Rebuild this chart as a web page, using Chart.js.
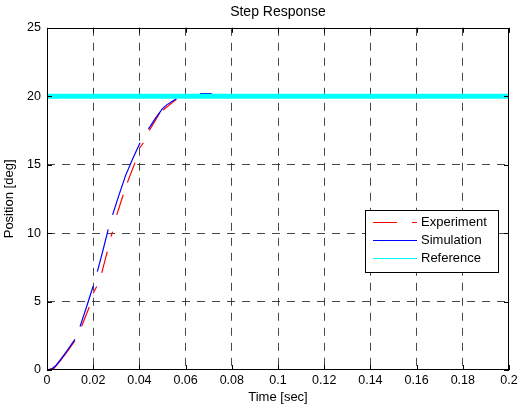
<!DOCTYPE html>
<html>
<head>
<meta charset="utf-8">
<script src="https://cdn.jsdelivr.net/npm/chart.js@4"></script>
<style>
  html, body { margin: 0; padding: 0; background: #fff; }
  #wrap { width: 518px; height: 407px; }
</style>
</head>
<body>
<div id="wrap"><canvas id="stepChart" width="518" height="407"></canvas></div>
<script>
// Step response of the position loop (null = break in the trace)

const simTime = [0, 0.002, 0.004, 0.006, 0.008, 0.010, 0.0121, 0.013,
                 0.0143, 0.017, 0.020, 0.021,
                 0.0218, 0.024, 0.0265, 0.0275,
                 0.0284, 0.031, 0.034, 0.037, 0.0403, 0.042,
                 0.0439, 0.047, 0.050, 0.0518, 0.0558, 0.06,
                 0.0662, 0.0713, 0.073,
                 0.075, 0.2];
const simPos  = [0, 0.08, 0.35, 0.8, 1.25, 1.72, 2.24, null,
                 3.17, 4.55, 6.14, null,
                 7.19, 8.6, 10.28, null,
                 11.33, 12.7, 14.2, 15.4, 16.6, null,
                 17.6, 18.4, 19.1, 19.37, 19.8, null,
                 20.2, 20.2, null,
                 20.0, 20.0];

const expTime = [0, 0.003, 0.006, 0.009, 0.0121, 0.013,
                 0.015, 0.0183, 0.019,
                 0.020, 0.0215, 0.022,
                 0.0237, 0.0261, 0.027,
                 0.0277, 0.0284, 0.029,
                 0.0302, 0.033, 0.034,
                 0.0348, 0.0381, 0.039,
                 0.040, 0.0417, 0.043,
                 0.0443, 0.0489, 0.0495,
                 0.0503, 0.0561, 0.058,
                 0.06, 0.2];
const expPos  = [0, 0.12, 0.72, 1.4, 2.15, null,
                 3.2, 4.6, null,
                 5.6, 6.1, null,
                 7.1, 8.65, null,
                 9.75, 10.1, null,
                 11.33, 12.8, null,
                 13.7, 15.15, null,
                 16.2, 16.6, null,
                 17.5, 18.8, null,
                 19.0, 19.8, null,
                 20.0, 20.0];

const refTime = [0, 0.2];
const refPos  = [20, 20];

const xTicks = [0, 0.02, 0.04, 0.06, 0.08, 0.1, 0.12, 0.14, 0.16, 0.18, 0.2];
const yTicks = [0, 5, 10, 15, 20, 25];

const RED = '#ff0000';
const BLUE = '#0000ff';
const CYAN = '#00ffff';
const FONT = '"Liberation Sans", Arial, sans-serif';

const toPoints = (xs, ys) => xs.map((x, i) => ({ x: x, y: ys[i] }));

// MATLAB style box: solid frame with inward tick marks, legend inside the axes
const boxPlugin = {
  id: 'boxPlugin',
  afterDraw(chart) {
    const { ctx, chartArea: a, scales } = chart;
    ctx.save();
    ctx.strokeStyle = '#000';
    ctx.lineWidth = 1;
    ctx.setLineDash([]);
    ctx.strokeRect(Math.round(a.left) + 0.5, Math.round(a.top) + 0.5,
                   Math.round(a.right - a.left) - 1, Math.round(a.bottom - a.top) - 1);
    ctx.beginPath();
    xTicks.forEach(t => {
      const px = Math.round(scales.x.getPixelForValue(t)) + 0.5;
      ctx.moveTo(px, a.bottom); ctx.lineTo(px, a.bottom - 5);
      ctx.moveTo(px, a.top); ctx.lineTo(px, a.top + 5);
    });
    yTicks.forEach(t => {
      const py = Math.round(scales.y.getPixelForValue(t)) + 0.5;
      ctx.moveTo(a.left, py); ctx.lineTo(a.left + 5, py);
      ctx.moveTo(a.right, py); ctx.lineTo(a.right - 5, py);
    });
    ctx.stroke();

    // legend
    const lx = 365.5, ly = 210.5, lw = 133, lh = 62;
    ctx.fillStyle = '#fff';
    ctx.fillRect(lx, ly, lw, lh);
    ctx.strokeRect(lx, ly, lw, lh);
    ctx.font = '13px ' + FONT;
    ctx.textBaseline = 'middle';
    ctx.textAlign = 'left';
    const rows = [['Experiment', RED, [24, 15]], ['Simulation', BLUE, []], ['Reference', CYAN, []]];
    rows.forEach((r, i) => {
      const y = Math.round(221.5 + i * 18.3) + 0.5;
      ctx.strokeStyle = r[1];
      ctx.lineWidth = 1;
      ctx.setLineDash(r[2]);
      ctx.beginPath();
      ctx.moveTo(373, y);
      ctx.lineTo(417, y);
      ctx.stroke();
      ctx.setLineDash([]);
      ctx.fillStyle = '#000';
      ctx.fillText(r[0], 421, y);
    });
    ctx.restore();
  }
};

const gridColor = ctx => {
  const v = ctx.tick && ctx.tick.value;
  if (v === undefined) return 'rgba(0,0,0,0)';
  const s = ctx.scale;
  if (Math.abs(v - s.min) < 1e-9 || Math.abs(v - s.max) < 1e-9) return 'rgba(0,0,0,0)';
  return 'rgba(40,40,40,0.85)';
};

const ctx = document.getElementById('stepChart').getContext('2d');
const stepChart = new Chart(ctx, {
  type: 'line',
  data: {
    datasets: [
      {
        label: 'Experiment',
        data: toPoints(expTime, expPos),
        borderColor: RED,
        borderWidth: 1.2,
        pointRadius: 0,
        spanGaps: false,
        order: 2
      },
      {
        label: 'Simulation',
        data: toPoints(simTime, simPos),
        borderColor: BLUE,
        borderWidth: 1.2,
        pointRadius: 0,
        spanGaps: false,
        order: 1
      },
      {
        label: 'Reference',
        data: toPoints(refTime, refPos),
        borderColor: CYAN,
        borderWidth: 5,
        pointRadius: 0,
        order: 0
      }
    ]
  },
  options: {
    responsive: false,
    animation: false,
    events: [],
    layout: { padding: { left: 0, top: 0, bottom: 0, right: 9 } },
    plugins: {
      legend: { display: false },
      tooltip: { enabled: false },
      title: {
        display: true,
        text: 'Step Response',
        fullSize: false,
        color: '#000',
        font: { family: FONT, size: 14, weight: 'normal' },
        padding: { top: 4, bottom: 7 }
      }
    },
    scales: {
      x: {
        type: 'linear',
        min: 0,
        max: 0.2,
        afterFit: s => { s.height = 37; s.paddingRight = 0; s.paddingLeft = 0; },
        afterBuildTicks: s => { s.ticks = xTicks.map(v => ({ value: v })); },
        ticks: {
          autoSkip: false,
          maxRotation: 0,
          padding: 3,
          color: '#000',
          font: { family: FONT, size: 12.5 },
          callback: v => String(+v.toFixed(2))
        },
        grid: {
          color: gridColor,
          drawTicks: false,
          lineWidth: 1
        },
        border: { display: false, dash: [8, 7] },
        title: {
          display: true,
          text: 'Time [sec]',
          color: '#000',
          font: { family: FONT, size: 13 },
          padding: { top: 0, bottom: 2 }
        }
      },
      y: {
        type: 'linear',
        min: 0,
        max: 25,
        afterFit: s => { s.width = 47; s.paddingTop = 0; s.paddingBottom = 0; },
        afterBuildTicks: s => { s.ticks = yTicks.map(v => ({ value: v })); },
        ticks: {
          padding: 6,
          color: '#000',
          font: { family: FONT, size: 12.5 }
        },
        grid: {
          color: gridColor,
          drawTicks: false,
          lineWidth: 1
        },
        border: { display: false, dash: [8, 7] },
        title: {
          display: true,
          text: 'Position [deg]',
          color: '#000',
          font: { family: FONT, size: 13 },
          padding: { top: 2, bottom: 0 }
        }
      }
    }
  },
  plugins: [boxPlugin]
});
</script>
</body>
</html>
